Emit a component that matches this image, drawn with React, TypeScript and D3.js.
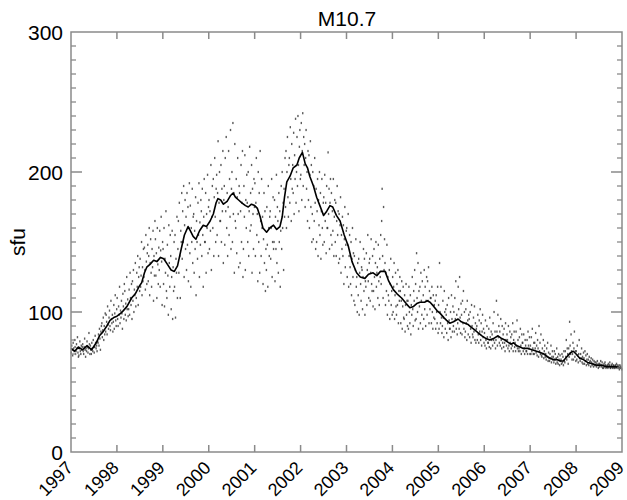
import React from "react";
import * as d3 from "d3";

// ---- data ----
const title = "M10.7";
const yLabel = "sfu";
const yearTicks = [1997, 1998, 1999, 2000, 2001, 2002, 2003, 2004, 2005, 2006, 2007, 2008, 2009];
const yMajorTicks = [0, 100, 200, 300];

// smoothed (running-mean) line: time, value
const lineTimes = [
  1997.0, 1997.08, 1997.16, 1997.25, 1997.35, 1997.45, 1997.55, 1997.62, 1997.7, 1997.78, 1997.85, 1997.93,
  1998.0, 1998.08, 1998.14, 1998.22, 1998.32, 1998.4, 1998.48, 1998.54, 1998.6, 1998.65, 1998.72, 1998.8, 1998.87, 1998.95,
  1999.02, 1999.1, 1999.18, 1999.25, 1999.32, 1999.4, 1999.47, 1999.55, 1999.6, 1999.66, 1999.72, 1999.8, 1999.88, 1999.95,
  2000.03, 2000.1, 2000.16, 2000.2, 2000.26, 2000.32, 2000.4, 2000.47, 2000.53, 2000.58, 2000.65, 2000.72, 2000.8, 2000.86, 2000.93,
  2001.0, 2001.06, 2001.12, 2001.18, 2001.26, 2001.33, 2001.41, 2001.48, 2001.55, 2001.6, 2001.65, 2001.7, 2001.77, 2001.84, 2001.92, 2001.97,
  2002.04, 2002.1, 2002.15, 2002.2, 2002.28, 2002.35, 2002.42, 2002.5, 2002.57, 2002.64, 2002.7, 2002.78, 2002.86, 2002.95,
  2003.04, 2003.12, 2003.22, 2003.3, 2003.4, 2003.48, 2003.58, 2003.66, 2003.74, 2003.84, 2003.92,
  2004.02, 2004.1, 2004.2, 2004.3, 2004.38, 2004.46, 2004.53, 2004.6, 2004.7, 2004.76, 2004.82, 2004.9, 2004.97,
  2005.04, 2005.12, 2005.18, 2005.25, 2005.33, 2005.43, 2005.5, 2005.58, 2005.65, 2005.72, 2005.8, 2005.87, 2005.95,
  2006.04, 2006.12, 2006.2, 2006.3, 2006.38, 2006.45, 2006.49, 2006.58, 2006.64, 2006.7, 2006.78, 2006.85, 2006.95,
  2007.04, 2007.14, 2007.22, 2007.3, 2007.38, 2007.43, 2007.5, 2007.58, 2007.65, 2007.72, 2007.8, 2007.88, 2007.94,
  2008.0, 2008.08, 2008.16, 2008.25, 2008.35, 2008.45, 2008.55, 2008.65, 2008.74, 2008.85, 2008.96, 2009.0,
];
const lineValues = [
  74, 72, 75, 73, 76, 73, 78, 83, 86, 90, 94, 96,
  97, 99, 101, 104, 110, 113, 118, 121, 128, 132, 134, 137, 136, 139,
  138, 134, 130, 129, 133, 145, 155, 161, 158, 154, 152, 158, 162, 161,
  165, 170, 178, 181, 180, 177, 179, 183, 185, 182, 180, 178, 176, 175, 177,
  176, 174, 168, 160, 157, 160, 162, 159, 161, 168, 182, 193, 197, 203, 205, 210,
  214, 206, 203, 197, 190, 182, 176, 169, 172, 176, 175, 169, 165, 155,
  147, 136, 128, 125, 124, 127, 128, 126, 129, 129, 122,
  116, 113, 110, 106, 103, 104, 106, 107, 107, 108, 107, 104, 101,
  99, 96, 94, 92, 93, 95, 93, 92, 91, 89, 87, 85, 83,
  81, 80, 81, 83, 81, 80, 79, 77, 78, 76, 75, 74, 74,
  73, 72, 71, 70, 68, 67, 66, 66, 65, 65, 68, 71, 72,
  70, 67, 66, 64, 63, 62, 62, 61, 61, 61, 60, 60,
];

// daily flux samples (8 per month)
const flux1997 = [
  71, 76, 73, 69, 78, 74, 72, 80, 75, 70, 72, 77, 74, 82, 71, 68, 69, 74, 79, 72, 70, 76, 73, 75,
  77, 72, 70, 75, 81, 73, 68, 74, 72, 79, 75, 71, 74, 85, 77, 70, 76, 73, 70, 78, 74, 72, 80, 75,
  71, 75, 83, 78, 74, 76, 72, 79, 78, 84, 76, 88, 81, 73, 86, 90, 92, 82, 87, 96, 80, 90, 84, 99,
  86, 98, 93, 84, 104, 91, 88, 96, 101, 90, 87, 108, 95, 92, 98, 86, 93, 105, 88, 99, 112, 94, 90, 102,
];
const flux1998 = [
  110, 95, 90, 104, 98, 118, 92, 101, 96, 108, 99, 88, 113, 104, 95, 120, 115, 98, 106, 94, 125, 102, 109, 97,
  102, 116, 98, 128, 110, 105, 120, 95, 122, 108, 130, 100, 116, 112, 135, 104, 110, 128, 118, 140, 105, 125, 132, 115,
  138, 118, 126, 150, 112, 132, 122, 145, 125, 146, 130, 116, 155, 136, 120, 142, 148, 122, 140, 160, 112, 135, 152, 128,
  118, 145, 132, 158, 108, 140, 126, 165, 152, 126, 142, 110, 160, 134, 120, 146, 130, 158, 118, 144, 168, 136, 105, 150,
];
const flux1999 = [
  145, 120, 160, 104, 138, 128, 172, 115, 110, 148, 126, 98, 162, 135, 118, 155, 140, 102, 125, 158, 95, 132, 115, 150,
  118, 155, 96, 138, 128, 168, 110, 145, 165, 128, 178, 140, 110, 158, 150, 185, 138, 172, 150, 190, 125, 162, 180, 145,
  168, 130, 185, 148, 175, 122, 160, 192, 142, 176, 118, 160, 150, 188, 135, 168, 170, 128, 158, 145, 182, 112, 165, 150,
  138, 178, 155, 192, 125, 164, 148, 180, 172, 140, 188, 155, 118, 168, 195, 150, 150, 185, 128, 170, 160, 198, 142, 175,
];
const flux2000 = [
  180, 145, 172, 158, 205, 130, 168, 190, 160, 195, 140, 182, 210, 168, 150, 188, 198, 155, 185, 222, 140, 178, 200, 165,
  165, 205, 150, 188, 172, 215, 135, 180, 190, 148, 210, 172, 225, 160, 185, 140, 175, 215, 155, 195, 168, 230, 145, 188,
  200, 150, 235, 170, 185, 128, 220, 165, 160, 195, 142, 182, 210, 170, 132, 190, 185, 135, 172, 205, 150, 178, 215, 125,
  145, 190, 168, 212, 130, 180, 160, 198, 178, 150, 200, 140, 172, 218, 158, 185, 162, 205, 128, 188, 170, 145, 195, 175,
];
const flux2001 = [
  192, 140, 178, 210, 155, 170, 122, 200, 150, 185, 128, 215, 165, 140, 195, 160, 168, 120, 152, 185, 135, 172, 115, 145,
  130, 175, 148, 118, 190, 160, 140, 168, 172, 138, 160, 195, 125, 150, 182, 145, 150, 180, 122, 168, 145, 198, 135, 175,
  165, 128, 185, 150, 172, 118, 158, 190, 145, 200, 160, 178, 130, 188, 168, 210, 175, 215, 160, 200, 225, 182, 168, 205,
  210, 178, 232, 195, 165, 220, 188, 205, 185, 228, 170, 212, 195, 238, 178, 200, 225, 190, 240, 205, 172, 218, 230, 195,
];
const flux2002 = [
  198, 235, 180, 215, 242, 190, 225, 205, 220, 175, 210, 230, 188, 200, 165, 215, 180, 212, 160, 198, 222, 175, 205, 150,
  170, 200, 152, 190, 165, 210, 178, 145, 188, 150, 172, 195, 140, 180, 162, 200, 155, 185, 138, 172, 195, 160, 148, 178,
  182, 150, 198, 165, 178, 142, 190, 160, 160, 214, 170, 188, 145, 178, 195, 155, 185, 148, 172, 158, 195, 140, 168, 180,
  150, 178, 140, 165, 190, 155, 172, 135, 170, 138, 162, 182, 128, 155, 145, 168, 140, 162, 120, 152, 175, 132, 148, 158,
];
const flux2003 = [
  160, 125, 148, 170, 118, 140, 155, 132, 120, 150, 112, 138, 160, 125, 142, 108, 140, 105, 130, 152, 118, 125, 100, 135,
  112, 138, 98, 128, 150, 120, 108, 132, 130, 102, 125, 145, 115, 138, 98, 122, 118, 142, 105, 130, 155, 122, 110, 135,
  138, 108, 128, 152, 120, 115, 140, 104, 115, 145, 125, 102, 135, 150, 118, 128, 132, 110, 148, 122, 105, 138, 125, 155,
  120, 165, 188, 140, 110, 175, 130, 152, 135, 105, 128, 115, 148, 98, 125, 112, 108, 130, 95, 120, 138, 105, 115, 98,
];
const flux2004 = [
  125, 100, 118, 135, 95, 112, 128, 104, 98, 120, 105, 130, 92, 115, 108, 125, 115, 92, 108, 122, 88, 104, 118, 96,
  95, 112, 86, 105, 120, 98, 108, 90, 108, 88, 118, 100, 92, 112, 84, 105, 98, 125, 102, 90, 115, 108, 130, 94,
  120, 95, 142, 110, 100, 135, 88, 115, 104, 118, 92, 128, 108, 98, 122, 88, 112, 95, 130, 102, 118, 90, 108, 125,
  98, 122, 108, 132, 92, 115, 102, 110, 110, 92, 118, 100, 88, 112, 96, 105, 95, 108, 88, 112, 100, 92, 118, 85,
];
const flux2005 = [
  105, 88, 135, 100, 92, 118, 96, 85, 90, 108, 96, 82, 115, 100, 88, 102, 98, 85, 105, 92, 80, 110, 94, 88,
  88, 100, 82, 112, 95, 86, 104, 90, 100, 86, 110, 95, 122, 88, 98, 84, 92, 118, 102, 88, 125, 96, 85, 106,
  98, 84, 108, 92, 115, 88, 100, 82, 86, 102, 92, 80, 108, 94, 84, 98, 95, 82, 100, 88, 78, 105, 90, 84,
  82, 96, 86, 104, 80, 92, 78, 88, 90, 80, 98, 84, 78, 94, 86, 102, 80, 92, 76, 86, 98, 82, 88, 78,
];
const flux2006 = [
  85, 76, 94, 80, 74, 90, 82, 78, 78, 88, 75, 96, 82, 74, 86, 80, 84, 76, 92, 80, 100, 78, 86, 74,
  80, 108, 86, 76, 98, 82, 90, 78, 86, 76, 95, 80, 74, 90, 78, 84, 75, 88, 78, 72, 92, 80, 76, 84,
  80, 74, 90, 76, 72, 86, 78, 82, 74, 84, 76, 92, 72, 80, 86, 75, 78, 72, 86, 76, 94, 74, 80, 72,
  74, 82, 72, 88, 76, 70, 84, 78, 78, 72, 84, 74, 70, 80, 76, 72, 72, 80, 70, 86, 76, 74, 82, 70,
];
const flux2007 = [
  76, 70, 82, 72, 88, 74, 70, 78, 70, 78, 74, 85, 71, 76, 69, 80, 74, 68, 90, 72, 78, 70, 84, 69,
  68, 74, 70, 80, 67, 72, 76, 68, 70, 66, 74, 68, 78, 65, 71, 67, 65, 70, 67, 76, 64, 68, 72, 66,
  68, 64, 72, 66, 70, 63, 67, 74, 64, 68, 63, 70, 66, 62, 69, 65, 66, 63, 70, 64, 68, 62, 72, 65,
  64, 72, 68, 80, 66, 74, 70, 63, 74, 68, 93, 76, 70, 84, 72, 66, 70, 78, 66, 74, 86, 68, 72, 65,
];
const flux2008 = [
  72, 66, 76, 69, 64, 70, 80, 67, 65, 70, 67, 74, 64, 68, 63, 71, 67, 63, 72, 65, 69, 62, 66, 70,
  63, 66, 62, 68, 64, 65, 61, 67, 64, 62, 66, 63, 61, 65, 62, 64, 62, 64, 61, 63, 65, 62, 60, 63,
  61, 63, 62, 65, 61, 62, 64, 60, 62, 60, 63, 61, 64, 62, 60, 61, 61, 62, 60, 63, 61, 62, 64, 60,
  60, 62, 61, 63, 60, 61, 62, 60, 61, 60, 62, 61, 63, 60, 61, 62, 60, 61, 59, 62, 60, 61, 60, 59,
];
const fluxYears = [1997, 1998, 1999, 2000, 2001, 2002, 2003, 2004, 2005, 2006, 2007, 2008];
const fluxByYear = [flux1997, flux1998, flux1999, flux2000, flux2001, flux2002, flux2003, flux2004, flux2005, flux2006, flux2007, flux2008];

// ---- layout ----
const W = 627;
const H = 500;
const L = 71, R = 622, T = 32, B = 452;
const axisColor = "#8a8a8a";
const font = "'Liberation Sans', Arial, Helvetica, sans-serif";

export default function App() {
  const x = d3.scaleLinear().domain([1997, 2009]).range([L, R]);
  const y = d3.scaleLinear().domain([0, 300]).range([B, T]);

  const points: { t: number; v: number }[] = [];
  fluxByYear.forEach((arr, yi) => {
    arr.forEach((v, i) => {
      points.push({ t: fluxYears[yi] + (i + 0.5) / arr.length, v });
    });
  });

  const lineData = lineTimes.map((t, i) => ({ t, v: lineValues[i] }));
  const linePath = d3
    .line<{ t: number; v: number }>()
    .x((d) => x(d.t))
    .y((d) => y(d.v))(lineData) as string;

  const minorY = d3.range(0, 301, 10).filter((v) => v % 100 !== 0);

  return (
    <svg
      width={W}
      height={H}
      style={{ position: "absolute", left: 0, top: 0, background: "#fff" }}
      fontFamily={font}
    >
      <rect x={0} y={0} width={W} height={H} fill="#fff" />
      {/* scatter */}
      <g fill="#333" fillOpacity={0.8}>
        {points.map((p, i) => (
          <rect key={i} x={x(p.t) - 0.7} y={y(p.v) - 1.1} width={1.4} height={2.2} />
        ))}
      </g>
      {/* smoothed line */}
      <path d={linePath} fill="none" stroke="#000" strokeWidth={1.6} strokeLinejoin="round" />

      {/* frame */}
      <rect x={L} y={T} width={R - L} height={B - T} fill="none" stroke={axisColor} strokeWidth={1.5} />
      {/* x ticks top & bottom */}
      {yearTicks.slice(1, -1).map((yr) => (
        <g key={yr} stroke={axisColor} strokeWidth={1.5}>
          <line x1={x(yr)} x2={x(yr)} y1={T} y2={T + 7} />
          <line x1={x(yr)} x2={x(yr)} y1={B} y2={B - 7} />
        </g>
      ))}
      {/* y minor ticks */}
      {minorY.map((v) => (
        <g key={v} stroke={axisColor} strokeWidth={1.3}>
          <line x1={L} x2={L + 5} y1={y(v)} y2={y(v)} />
          <line x1={R} x2={R - 5} y1={y(v)} y2={y(v)} />
        </g>
      ))}
      {yMajorTicks.slice(1, -1).map((v) => (
        <g key={v} stroke={axisColor} strokeWidth={1.5}>
          <line x1={L} x2={L + 11} y1={y(v)} y2={y(v)} />
          <line x1={R} x2={R - 11} y1={y(v)} y2={y(v)} />
        </g>
      ))}

      {/* y labels */}
      {yMajorTicks.map((v) => (
        <text key={v} x={L - 8} y={y(v)} dy="0.36em" textAnchor="end" fontSize={21} fill="#000">
          {v}
        </text>
      ))}
      {/* x labels */}
      {yearTicks.map((yr) => (
        <text
          key={yr}
          transform={`translate(${x(yr) + 3},${B + 17}) rotate(-45)`}
          textAnchor="end"
          fontSize={18}
          fill="#000"
        >
          {yr}
        </text>
      ))}
      {/* title */}
      <text x={347} y={26} textAnchor="middle" fontSize={21} fill="#000">
        {title}
      </text>
      {/* y axis label */}
      <text transform={`translate(25,242) rotate(-90)`} textAnchor="middle" fontSize={21} fill="#000">
        {yLabel}
      </text>
    </svg>
  );
}
